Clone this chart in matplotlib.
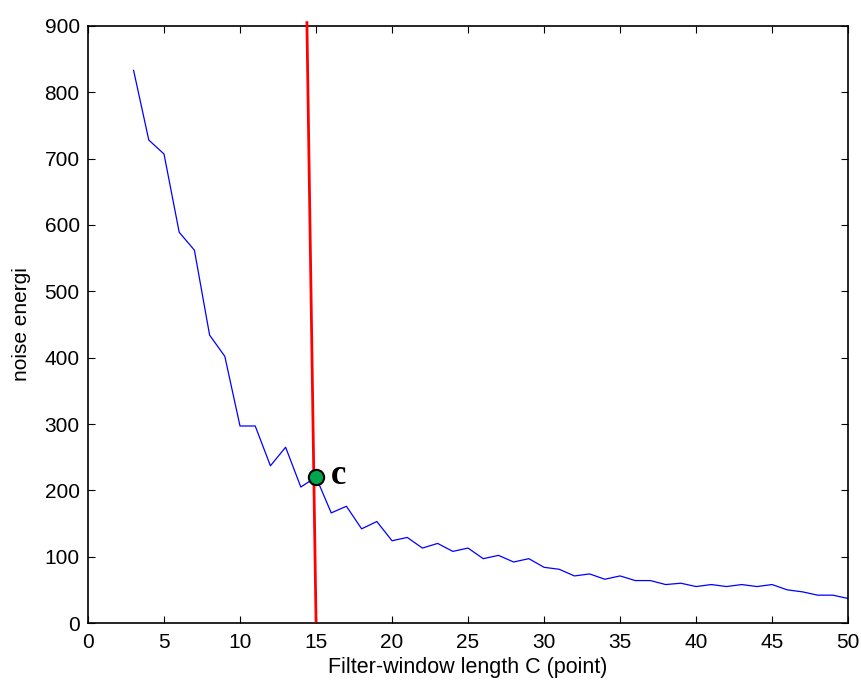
import matplotlib
matplotlib.use("Agg")
import matplotlib.pyplot as plt

plt.rcParams['font.family'] = ['Liberation Sans', 'DejaVu Sans']

x_vals = list(range(3, 51))
noise = [833, 728, 707, 589, 562, 434, 402, 297, 297, 237, 265, 205, 220,
         166, 176, 142, 153, 124, 129, 113, 120, 108, 113, 97, 102, 92, 97,
         84, 81, 71, 74, 66, 71, 64, 64, 58, 60, 55, 58, 55, 58, 55, 58,
         50, 47, 42, 42, 37]
red_x = [14.4, 15.0]
red_y = [905, 3]
point_x = [15]
point_y = [220]
point_label = "c"
x_ticks = [0, 5, 10, 15, 20, 25, 30, 35, 40, 45, 50]
y_ticks = [0, 100, 200, 300, 400, 500, 600, 700, 800, 900]

fig = plt.figure(figsize=(8.61, 6.83), dpi=100)
ax = fig.add_axes([0.1022, 0.0878, 0.8828, 0.8742])
ax.plot(x_vals, noise, color='#0000ff', lw=0.9)
ax.plot(red_x, red_y, color='#ff0000', lw=2, clip_on=False, zorder=3)
ax.plot(point_x, point_y, 'o', ms=11, mfc='#00a550', mec='black', mew=1.5, zorder=4)
ax.text(point_x[0] + 1.0, point_y[0] + 3, point_label, family=['Liberation Serif', 'DejaVu Serif'],
        fontsize=25, fontweight='bold', va='center', ha='left')

ax.set_xlim(0, 50)
ax.set_ylim(0, 900)
ax.set_xticks(x_ticks)
ax.set_yticks(y_ticks)
ax.tick_params(direction='in', top=True, right=True, labelsize=15, length=5)
ax.tick_params(axis='x', pad=7)
ax.tick_params(axis='y', pad=6)
ax.set_xlabel('Filter-window length C (point)', fontsize=15.5, labelpad=4)
ax.set_ylabel('noise energi', fontsize=15, labelpad=10)
for s in ax.spines.values():
    s.set_linewidth(1.2)

fig.savefig('out.png', dpi=100)
